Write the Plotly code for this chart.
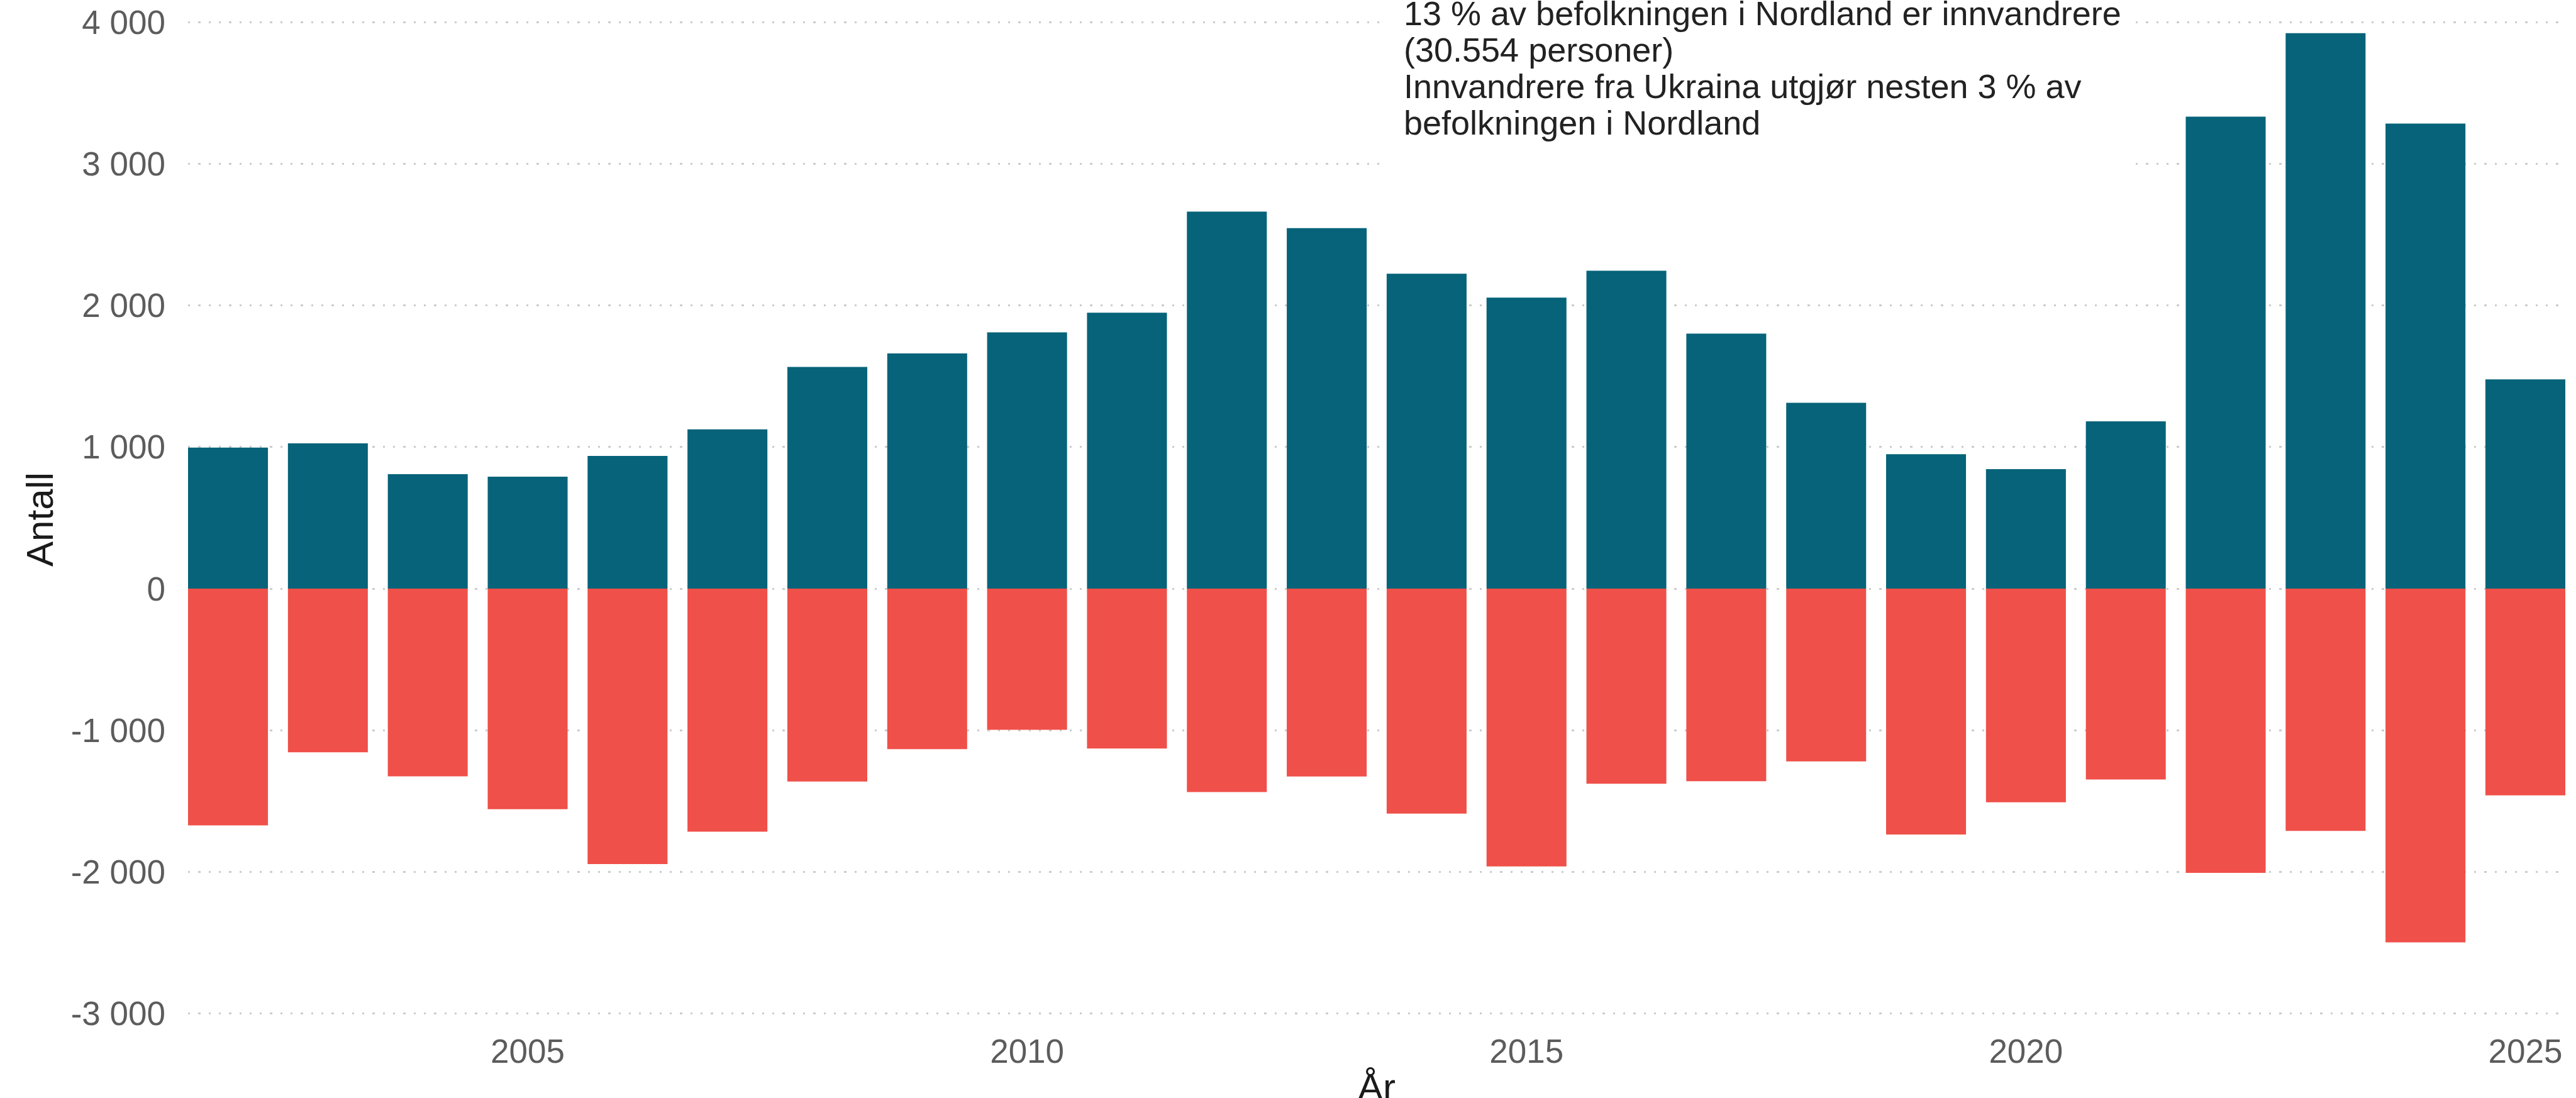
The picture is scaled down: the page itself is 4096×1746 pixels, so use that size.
import plotly.graph_objects as go

years = list(range(2002, 2026))
innvandring = [996, 1026, 808, 790, 937, 1125, 1565, 1661, 1809, 1948, 2662, 2545,
               2224, 2055, 2244, 1801, 1312, 949, 844, 1181, 3332, 3922, 3284, 1478]
utvandring = [-1672, -1155, -1325, -1557, -1945, -1716, -1362, -1133, -997, -1129, -1436, -1326,
              -1588, -1961, -1378, -1360, -1220, -1736, -1508, -1347, -2007, -1710, -2497, -1460]
y_ticks = [-3000, -2000, -1000, 0, 1000, 2000, 3000, 4000]
y_ticktext = ["-3 000", "-2 000", "-1 000", "0", "1 000", "2 000", "3 000", "4 000"]
x_ticks = [2005, 2010, 2015, 2020, 2025]
note_lines = [
    "13 % av befolkningen i Nordland er innvandrere",
    "(30.554 personer)",
    "Innvandrere fra Ukraina utgjør nesten 3 % av",
    "befolkningen i Nordland",
]

W, H = 4096, 1746
ML, MR, MT, MB = 299, 17, 0, 110
PW, PH = W - ML - MR, H - MT - MB
FONT = "Liberation Sans, Arial, sans-serif"
TEAL = "#066379"
RED = "#EF5049"

fig = go.Figure()
fig.add_trace(go.Bar(x=years, y=innvandring, width=0.8, marker=dict(color=TEAL, line=dict(width=0)),
                     name="Innvandring", showlegend=False))
fig.add_trace(go.Bar(x=years, y=utvandring, width=0.8, marker=dict(color=RED, line=dict(width=0)),
                     name="Utvandring", showlegend=False))

def py(px):
    return 1 - px / PH

def pxx(px):
    return (px - ML) / PW

annotations = []
baselines = [39.3, 97.6, 155.8, 214.1]
FS_NOTE = 54
for line, b in zip(note_lines, baselines):
    annotations.append(dict(
        text=line, xref="paper", yref="paper", x=pxx(2231), y=py(b - 0.3465 * FS_NOTE),
        xanchor="left", yanchor="middle", showarrow=False, borderpad=0,
        font=dict(family=FONT, size=FS_NOTE, color="#222222"), align="left"))

# axis titles
annotations.append(dict(text="Antall", xref="paper", yref="paper", x=pxx(62.9), y=py(826),
                        xanchor="center", yanchor="middle", textangle=-90, showarrow=False, borderpad=0,
                        font=dict(family=FONT, size=60, color="#1a1a1a")))
annotations.append(dict(text="År", xref="paper", yref="paper", x=0.5, y=py(1694.3),
                        xanchor="center", yanchor="top", showarrow=False, borderpad=0,
                        font=dict(family=FONT, size=60, color="#1a1a1a")))

shapes = [dict(type="rect", xref="paper", yref="paper", x0=pxx(2204.5), x1=pxx(3385.7),
               y0=py(280), y1=1.02, fillcolor="white", line=dict(width=0), layer="above")]

fig.update_layout(
    width=W, height=H,
    margin=dict(l=ML, r=MR, t=MT, b=MB, autoexpand=False),
    paper_bgcolor="white", plot_bgcolor="white",
    barmode="relative", bargap=0.2,
    font=dict(family=FONT),
    annotations=annotations,
    shapes=shapes,
    xaxis=dict(range=[2001.6, 2025.4], tickvals=x_ticks, ticktext=[str(v) for v in x_ticks],
               showgrid=False, zeroline=False, showline=False, ticks="", automargin=False,
               tickfont=dict(family=FONT, size=53, color="#5c5c5c")),
    yaxis=dict(range=[-3108, 4156], tickvals=y_ticks, ticktext=y_ticktext,
               showgrid=True, gridcolor="#cccccc", gridwidth=3.3, griddash="3.3px,13px",
               zeroline=False, showline=False, ticks="", ticklabelstandoff=35, automargin=False,
               tickfont=dict(family=FONT, size=53, color="#5c5c5c")),
)

fig.write_html("out.html",
               config={"displayModeBar": False},
               post_script="document.body.style.margin='0';document.body.style.padding='0';"
                           "document.body.style.overflow='hidden';")
